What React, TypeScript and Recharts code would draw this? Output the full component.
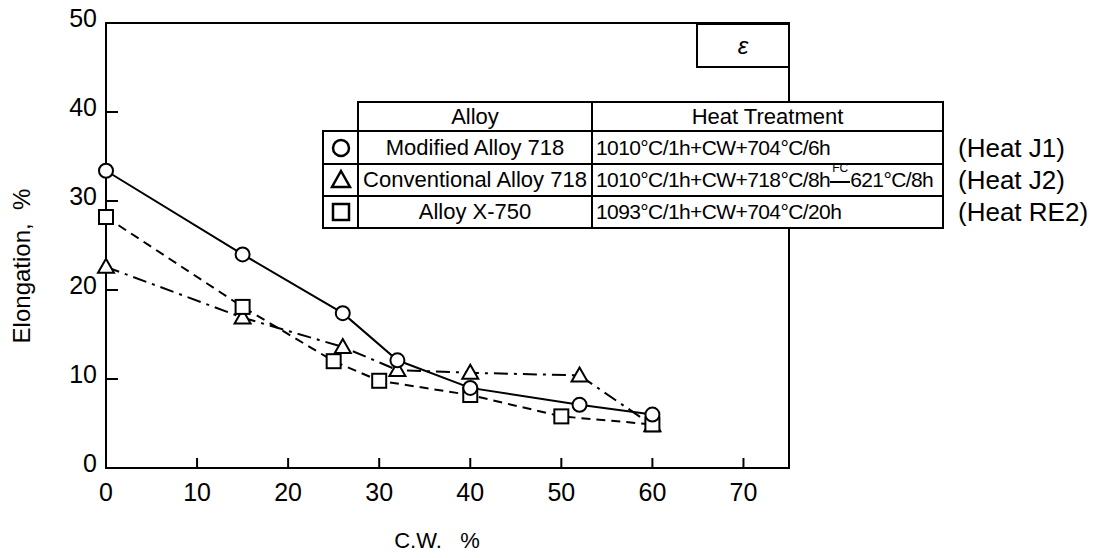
import React from 'react';
import { LineChart, Line, XAxis, YAxis, ReferenceArea } from 'recharts';

// ---- data ----
const cwModified = [0, 15, 26, 32, 40, 52, 60];
const elongModified = [33.4, 24.0, 17.4, 12.1, 9.0, 7.1, 6.0];
const cwConventional = [0, 15, 26, 32, 40, 52, 60];
const elongConventional = [22.6, 16.9, 13.6, 11.0, 10.7, 10.4, 4.8];
const cwX750 = [0, 15, 25, 30, 40, 50, 60];
const elongX750 = [28.2, 18.1, 12.0, 9.8, 8.2, 5.8, 4.9];

const xTicks = [0, 10, 20, 30, 40, 50, 60, 70];
const yTicks = [0, 10, 20, 30, 40, 50];

const alloyNames = ['Modified Alloy 718', 'Conventional Alloy 718', 'Alloy X-750'];
const heatLabels = ['(Heat J1)', '(Heat J2)', '(Heat RE2)'];

const toPoints = (xs: number[], ys: number[]) => xs.map((x, i) => ({ x, y: ys[i] }));
const dataModified = toPoints(cwModified, elongModified);
const dataConventional = toPoints(cwConventional, elongConventional);
const dataX750 = toPoints(cwX750, elongX750);

const FONT = '"Liberation Sans", Arial, Helvetica, sans-serif';

const CircleDot = (p: any) => (
  <circle key={`c${p.index}`} cx={p.cx} cy={p.cy} r={7} fill="#fff" stroke="#000" strokeWidth={2} />
);
const SquareDot = (p: any) => (
  <rect key={`s${p.index}`} x={p.cx - 7} y={p.cy - 7} width={14} height={14} fill="#fff" stroke="#000" strokeWidth={2} />
);
const TriDot = (p: any) => (
  <polygon
    key={`t${p.index}`}
    points={`${p.cx},${p.cy - 8} ${p.cx + 8},${p.cy + 6} ${p.cx - 8},${p.cy + 6}`}
    fill="#fff"
    stroke="#000"
    strokeWidth={2}
  />
);

const XTick = (p: any) => (
  <text x={p.x} y={p.y + 33} textAnchor="middle" fontSize={25} fontFamily={FONT} fill="#000">
    {p.payload.value}
  </text>
);
const YTick = (p: any) => (
  <text x={p.x - 9} y={p.y + 4} textAnchor="end" fontSize={25} fontFamily={FONT} fill="#000">
    {p.payload.value}
  </text>
);

// page coords -> wrapper coords (body margin 8)
const P = (v: number) => v - 8;

const cell = (left: number, top: number, w: number, h: number, content: React.ReactNode, align: string = 'center', extra: any = {}) => (
  <div
    style={{
      position: 'absolute',
      left: P(left),
      top: P(top),
      width: w,
      height: h,
      boxSizing: 'border-box',
      border: '2px solid #000',
      background: '#fff',
      display: 'flex',
      alignItems: 'center',
      justifyContent: align === 'center' ? 'center' : 'flex-start',
      paddingLeft: align === 'center' ? 0 : 3,
      fontFamily: FONT,
      fontSize: 22,
      color: '#000',
      whiteSpace: 'pre',
      overflow: 'visible',
      ...extra,
    }}
  >
    {content}
  </div>
);

const MarkerIcon = ({ kind }: { kind: string }) => (
  <svg width={24} height={24}>
    {kind === 'c' && <circle cx={12} cy={12} r={8} fill="#fff" stroke="#000" strokeWidth={2.5} />}
    {kind === 't' && <polygon points="12,3 21,19 3,19" fill="#fff" stroke="#000" strokeWidth={2.5} />}
    {kind === 's' && <rect x={4} y={4} width={16} height={16} fill="#fff" stroke="#000" strokeWidth={2.5} />}
  </svg>
);

const heatStyle = { fontSize: 21, letterSpacing: -0.6 };

export default function App() {
  const colA = 357, colB = 591, colM = 322, right = 944;
  const rowTops = [130, 163, 195];
  const rowH = [35, 34, 34];
  const kinds = ['c', 't', 's'];
  const heat = [
    <span>1010°C/1h+CW+704°C/6h</span>,
    <span>
      1010°C/1h+CW+718°C/8h
      <span style={{ position: 'relative', display: 'inline-block', width: 20 }}>
        <span style={{ position: 'absolute', left: 2, top: -7, fontSize: 12, letterSpacing: 0 }}>FC</span>
        <span style={{ position: 'absolute', left: 0, top: 13, width: 20, borderTop: '2px solid #000' }} />
        {'\u00a0'}
      </span>
      621°C/8h
    </span>,
    <span>1093°C/1h+CW+704°C/20h</span>,
  ];
  return (
    <div style={{ position: 'relative', width: 1090, height: 550 }}>
      <style>{'.recharts-surface{overflow:visible}'}</style>
      <LineChart width={1090} height={550} margin={{ top: 15, right: 309, bottom: 0, left: 0 }}>
        <XAxis
          type="number"
          dataKey="x"
          domain={[0, 75]}
          ticks={xTicks}
          height={90}
          tickSize={-10}
          tickMargin={10}
          tickLine={{ stroke: '#000', strokeWidth: 2 }}
          axisLine={{ stroke: '#000', strokeWidth: 2 }}
          tick={XTick}
        />
        <YAxis
          type="number"
          dataKey="y"
          domain={[0, 50]}
          ticks={yTicks}
          width={98}
          tickSize={-12}
          tickMargin={12}
          tickLine={{ stroke: '#000', strokeWidth: 2 }}
          axisLine={{ stroke: '#000', strokeWidth: 2 }}
          tick={YTick}
        />
        <ReferenceArea x1={0} x2={75} y1={0} y2={50} fill="none" fillOpacity={0} stroke="#000" strokeWidth={2} />
        <Line
          data={dataConventional}
          dataKey="y"
          stroke="#000"
          strokeWidth={2}
          strokeDasharray="14 6 3 6"
          dot={TriDot}
          isAnimationActive={false}
        />
        <Line
          data={dataX750}
          dataKey="y"
          stroke="#000"
          strokeWidth={2}
          strokeDasharray="9 6"
          dot={SquareDot}
          isAnimationActive={false}
        />
        <Line
          data={dataModified}
          dataKey="y"
          stroke="#000"
          strokeWidth={2}
          dot={CircleDot}
          isAnimationActive={false}
        />
      </LineChart>

      {/* epsilon box */}
      {cell(696, 23, 94, 45, <span style={{ fontStyle: 'italic', fontSize: 24 }}>ε</span>)}

      {/* legend table header */}
      {cell(colA, 101, colB - colA + 2, 31, 'Alloy')}
      {cell(colB, 101, right - colB, 31, 'Heat Treatment')}
      {rowTops.map((t, i) => (
        <React.Fragment key={i}>
          {cell(colM, t, colA - colM + 2, rowH[i], <MarkerIcon kind={kinds[i]} />)}
          {cell(colA, t, colB - colA + 2, rowH[i], alloyNames[i])}
          {cell(colB, t, right - colB, rowH[i], heat[i], 'left', heatStyle)}
          <div
            style={{
              position: 'absolute',
              left: P(958),
              top: P(t + rowH[i] / 2 - 15),
              fontFamily: FONT,
              fontSize: 26,
              lineHeight: '30px',
              whiteSpace: 'pre',
            }}
          >
            {heatLabels[i]}
          </div>
        </React.Fragment>
      ))}

      {/* axis titles */}
      <div
        style={{
          position: 'absolute',
          left: P(22),
          top: P(266),
          transform: 'translate(-50%, -50%) rotate(-90deg)',
          fontFamily: FONT,
          fontSize: 24,
          whiteSpace: 'pre',
        }}
      >
        {'Elongation,  %'}
      </div>
      <div
        style={{
          position: 'absolute',
          left: P(437),
          top: P(541),
          transform: 'translate(-50%, -50%)',
          fontFamily: FONT,
          fontSize: 22,
          whiteSpace: 'pre',
        }}
      >
        {'C.W.   %'}
      </div>
    </div>
  );
}
